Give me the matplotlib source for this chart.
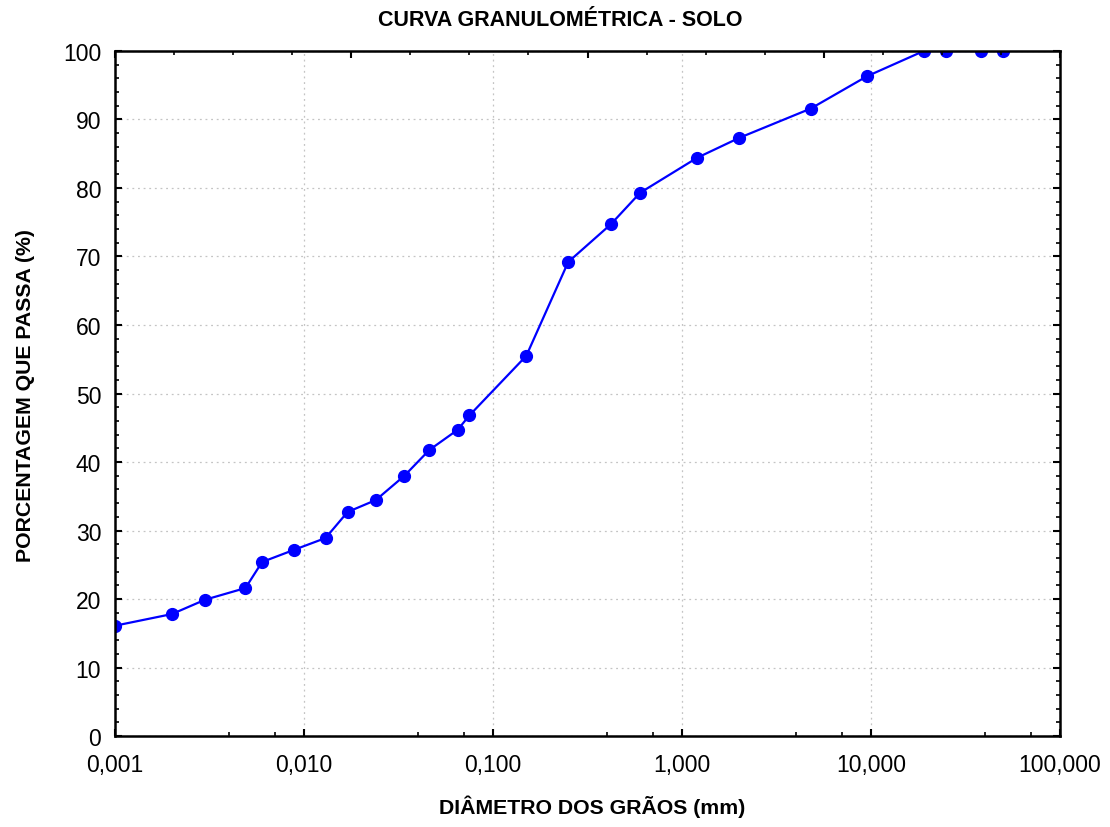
import matplotlib
matplotlib.use("Agg")
import matplotlib.pyplot as plt
import matplotlib.ticker as mticker
import numpy as np

# grain diameter (mm) and percent passing
diametro = [0.001, 0.002, 0.003, 0.0049, 0.006, 0.0089, 0.013, 0.017, 0.024,
            0.034, 0.046, 0.065, 0.075, 0.15, 0.25, 0.42, 0.6, 1.2, 2.0,
            4.8, 9.5, 19, 25, 38, 50]
passa = [16.1, 17.8, 19.9, 21.6, 25.4, 27.2, 28.9, 32.7, 34.45,
         38.0, 41.75, 44.7, 46.8, 55.5, 69.2, 74.7, 79.3, 84.4, 87.3,
         91.6, 96.3, 100, 100, 100, 100]

xticks = [0.001, 0.01, 0.1, 1, 10, 100]
xlabels = ["0,001", "0,010", "0,100", "1,000", "10,000", "100,000"]

plt.rcParams["font.family"] = ["Liberation Sans", "DejaVu Sans"]

fig = plt.figure(figsize=(11.1, 8.28), dpi=100)
ax = fig.add_axes([0.1036, 0.1099, 0.8514, 0.8273])

ax.plot(diametro, passa, color="#0000ff", linewidth=1.6, marker="o",
        markersize=8.5, zorder=3)

ax.set_xscale("log")
ax.set_xlim(0.001, 100)
ax.set_ylim(0, 100)
ax.set_xticks(xticks)
ax.set_xticklabels(xlabels)
ax.xaxis.set_minor_locator(mticker.LogLocator(base=10, subs=[4, 7]))
ax.xaxis.set_minor_formatter(mticker.NullFormatter())
ax.set_yticks(np.arange(0, 101, 10))
ax.yaxis.set_minor_locator(mticker.MultipleLocator(2))

ax.grid(True, which="major", linestyle=(0, (1.5, 3)), color="#c4c4c4", linewidth=0.9)

ax.tick_params(axis="both", which="major", direction="in", length=5, width=1.5,
               labelsize=16.5, color="black")
ax.tick_params(axis="both", which="minor", direction="in", length=3, width=1.2)
ax.tick_params(axis="y", which="both", right=True)
ax.tick_params(axis="x", which="major", pad=12)
ax.tick_params(axis="y", which="major", pad=10)

for s in ax.spines.values():
    s.set_linewidth(1.8)
    s.set_zorder(4)

# top axis ticks (plain divisions, no labels)
top = ax.twiny()
top.set_xlim(0, 16)
top.xaxis.set_major_locator(mticker.MultipleLocator(4))
top.xaxis.set_minor_locator(mticker.MultipleLocator(1))
top.tick_params(axis="x", which="major", direction="in", length=5, width=1.5,
                labeltop=False)
top.tick_params(axis="x", which="minor", direction="in", length=3, width=1.2)
for s in top.spines.values():
    s.set_visible(False)

fig.text(0.5045, 0.975, "CURVA GRANULOMÉTRICA - SOLO", ha="center", va="center",
         fontsize=15.5, fontweight="bold")
ax.set_xlabel("DIÂMETRO DOS GRÃOS (mm)", fontsize=15.3, fontweight="bold")
ax.set_ylabel("PORCENTAGEM QUE PASSA (%)", fontsize=15.3, fontweight="bold")
ax.xaxis.set_label_coords(0.505, -0.086)
ax.yaxis.set_label_coords(-0.085, 0.499)

fig.savefig("out.png", dpi=100)
